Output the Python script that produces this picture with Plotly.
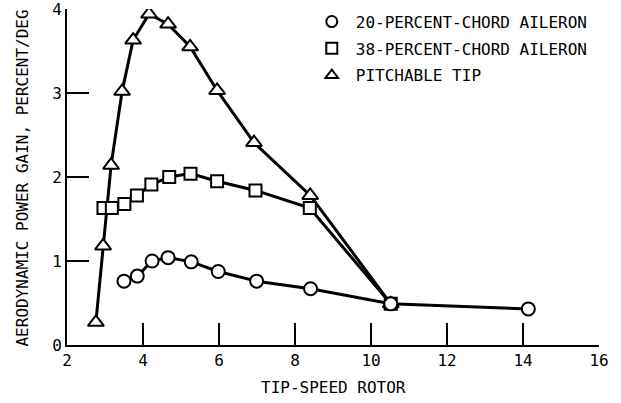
import plotly.graph_objects as go

# Data
circle_x = [3.50, 3.85, 4.24, 4.66, 5.27, 5.98, 6.99, 8.41, 10.52, 14.14]
circle_y = [0.76, 0.82, 1.00, 1.04, 0.99, 0.875, 0.76, 0.67, 0.49, 0.43]

square_x = [2.96, 3.18, 3.51, 3.84, 4.22, 4.69, 5.25, 5.95, 6.96, 8.39, 10.52]
square_y = [1.63, 1.63, 1.68, 1.78, 1.91, 2.00, 2.04, 1.95, 1.84, 1.63, 0.49]

tri_x = [2.76, 2.95, 3.16, 3.45, 3.74, 4.16, 4.66, 5.24, 5.95, 6.92, 8.40, 10.52]
tri_y = [0.27, 1.18, 2.14, 3.02, 3.63, 3.94, 3.82, 3.55, 3.03, 2.41, 1.78, 0.49]

series_names = ["20-PERCENT-CHORD AILERON", "38-PERCENT-CHORD AILERON", "PITCHABLE TIP"]
x_ticks = [2, 4, 6, 8, 10, 12, 14, 16]
y_ticks = [0, 1, 2, 3, 4]

FONT = "DejaVu Sans Mono, Liberation Mono, monospace"

fig = go.Figure()

def add_series(xs, ys, symbol, size):
    fig.add_trace(go.Scatter(
        x=xs, y=ys, mode="lines+markers", showlegend=False,
        line=dict(color="black", width=3),
        marker=dict(symbol=symbol, size=size, color="white",
                    line=dict(color="black", width=2)),
    ))

add_series(tri_x, tri_y, "triangle-up", 14)
add_series(square_x, square_y, "square", 12)
add_series(circle_x, circle_y, "circle", 13)

# legend-only entries (marker only)
for i, (name, sym) in enumerate(zip(series_names, ["circle", "square", "triangle-up"])):
    fig.add_trace(go.Scatter(
        x=[None], y=[None], mode="markers", name=name, legendgroup=f"g{i}",
        marker=dict(symbol=sym, size=11, color="white",
                    line=dict(color="black", width=2)),
    ))

axis_common = dict(
    showgrid=False, zeroline=False, showline=True, linecolor="black",
    linewidth=2, ticks="inside", ticklen=22, tickwidth=2, tickcolor="black",
    tickfont=dict(family=FONT, size=16, color="black"), automargin=False,
    ticklabeloverflow="allow",
)

fig.update_layout(
    width=621, height=403,
    margin=dict(l=67, r=22, t=9, b=58, autoexpand=False),
    paper_bgcolor="white", plot_bgcolor="white",
    font=dict(family=FONT, size=16, color="black"),
    xaxis=dict(range=[2, 16], tickvals=x_ticks, ticktext=[str(v) for v in x_ticks],
               **axis_common),
    yaxis=dict(range=[0, 4], tickvals=y_ticks, ticktext=[str(v) for v in y_ticks],
               **axis_common),
    legend=dict(x=0.4526, y=1.013, xanchor="left", yanchor="top",
                bgcolor="rgba(0,0,0,0)", font=dict(family=FONT, size=16),
                itemsizing="trace", itemwidth=38, traceorder="grouped",
                tracegroupgap=3),
    annotations=[
        dict(text="TIP-SPEED ROTOR", xref="paper", yref="paper", x=0.5, y=0,
             xanchor="center", yanchor="middle", yshift=-42, showarrow=False,
             font=dict(family=FONT, size=16)),
        dict(text="AERODYNAMIC POWER GAIN, PERCENT/DEG", xref="paper", yref="paper",
             x=0, y=0.497, xanchor="center", yanchor="middle", xshift=-44.5,
             textangle=-90, showarrow=False, font=dict(family=FONT, size=16)),
    ],
)

fig.write_html(
    "out.html",
    config={"displayModeBar": False},
    post_script="document.body.style.margin='0';document.body.style.overflow='hidden';",
)
